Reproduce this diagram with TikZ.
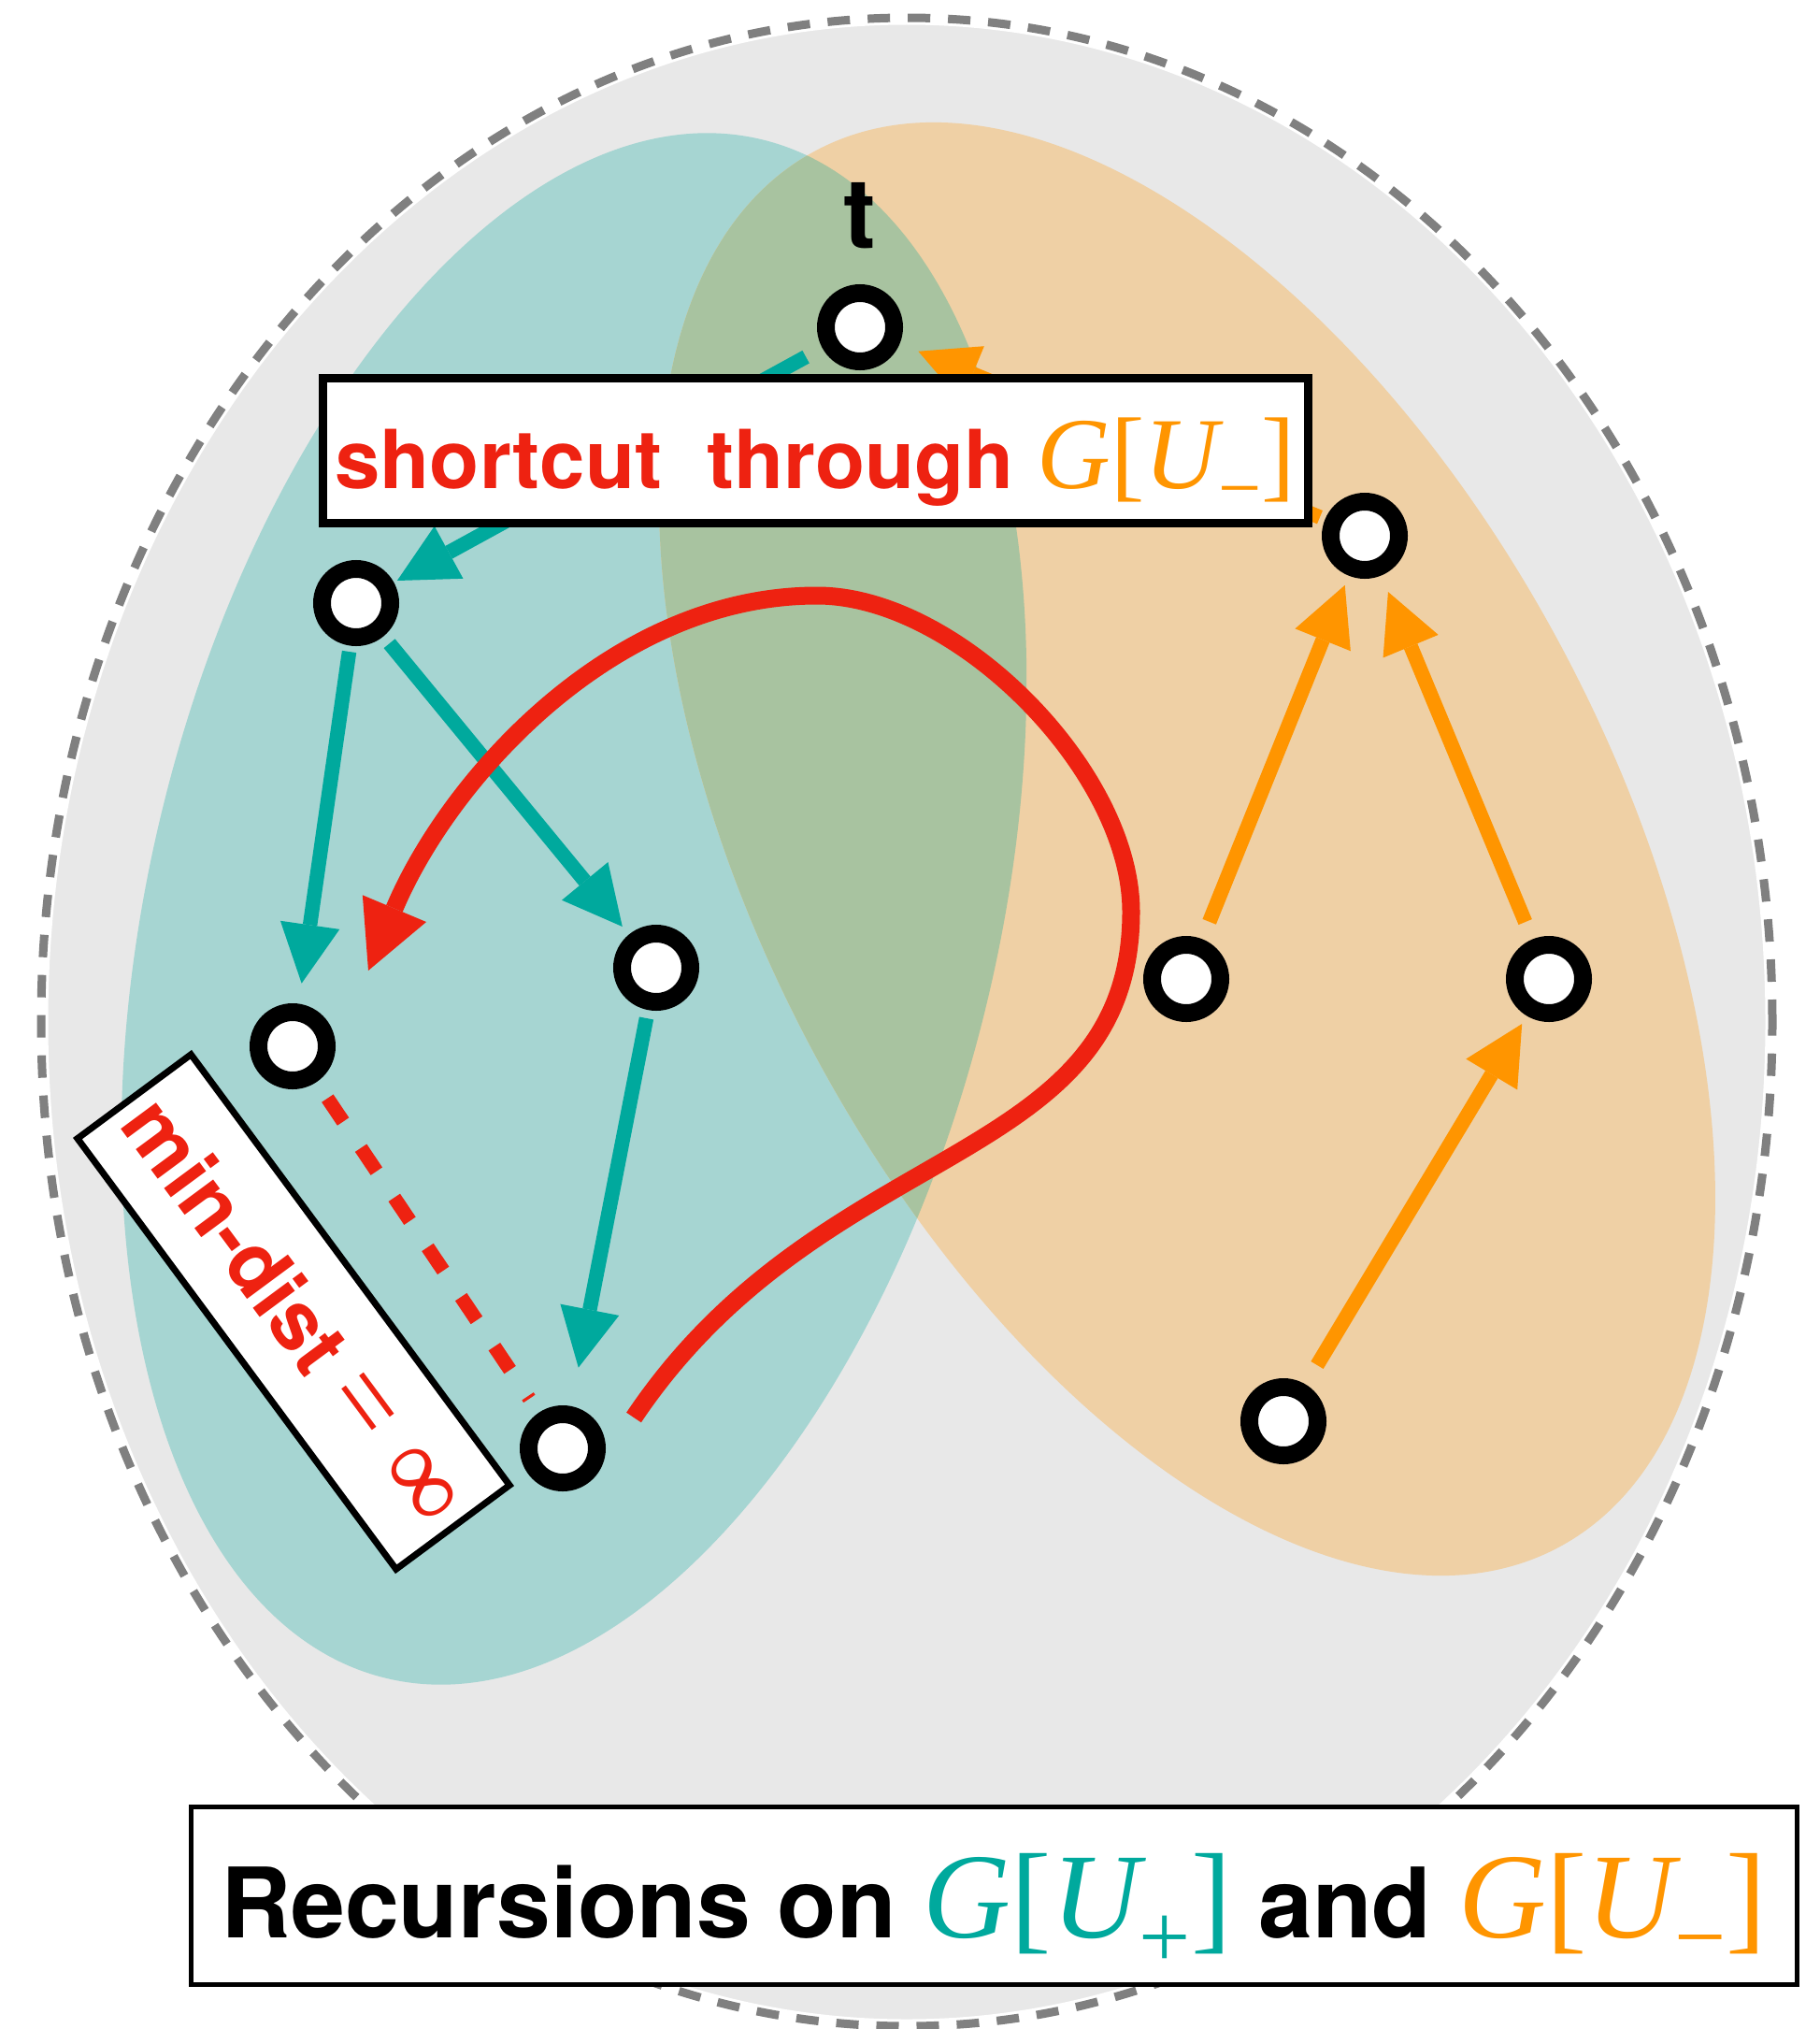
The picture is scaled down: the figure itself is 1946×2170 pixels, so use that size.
\documentclass[tikz,border=0pt]{standalone}
\usepackage{fontspec}
\setmainfont{TeX Gyre Heros}
\newfontfamily\serifmath{Liberation Serif}
\usetikzlibrary{arrows.meta}

\definecolor{bggray}{HTML}{E8E8E8}
\definecolor{rimgray}{HTML}{808080}
\definecolor{tealfill}{HTML}{A6D5D2}
\definecolor{orangefill}{HTML}{EFD0A5}
\definecolor{mixfill}{HTML}{A8C3A0}
\definecolor{tealline}{HTML}{00A99D}
\definecolor{orangeline}{HTML}{FF9500}
\definecolor{redline}{HTML}{EE2211}

\newcommand{\setsize}[1]{\fontsize{#1pt}{#1pt}\selectfont}
% G[U_s] in the serif family: size, subscript size, subscript drop, subscript symbol
\newcommand{\GU}[4]{{\serifmath\mdseries\setsize{#1}\itshape G\upshape[\itshape U\upshape\raisebox{-#3pt}{\setsize{#2}#4}]}}

\begin{document}
\begin{tikzpicture}[x=1pt, y=-1pt,
  vertex/.style={circle, draw=black, fill=white, line width=19pt,
    minimum size=73pt, inner sep=0pt, outer sep=0pt},
  tealedge/.style={draw=tealline, line width=15.5pt,
    -{Triangle[length=63pt, width=64pt, line width=0pt]}},
  orangeedge/.style={draw=orangeline, line width=15.5pt,
    -{Triangle[length=63pt, width=64pt, line width=0pt]}},
  shortcutpath/.style={draw=redline, line width=19pt,
    -{Triangle[length=72pt, width=74pt, line width=0pt]}},
  mindistpath/.style={draw=redline, line width=15pt, dash pattern=on 30pt off 34pt},
  labelbox/.style={draw=black, fill=white, inner sep=0pt, outer sep=0pt}
]
\useasboundingbox (0,0) rectangle (1946,2170);

% outer region
\fill[bggray] (970,1093) ellipse [x radius=926pt, y radius=1074pt];
% the two halves U+ and U-
\fill[tealfill, rotate around={-13.8:(614,972)}] (614,972) ellipse [x radius=453pt, y radius=847pt];
\fill[orangefill, rotate around={28:(1270,908)}] (1270,908) ellipse [x radius=455pt, y radius=846pt];
\begin{scope}
  \clip[rotate around={-13.8:(614,972)}] (614,972) ellipse [x radius=453pt, y radius=847pt];
  \fill[mixfill, rotate around={28:(1270,908)}] (1270,908) ellipse [x radius=455pt, y radius=846pt];
\end{scope}
\draw[white, line width=15pt] (970,1093) ellipse [x radius=926pt, y radius=1074pt];
\draw[rimgray, line width=9pt, dash pattern=on 24pt off 19pt] (970,1093) ellipse [x radius=926pt, y radius=1074pt];

% vertices
\node[vertex] (t) at (920,350) {};
\node[vertex] (A) at (381,645) {};
\node[vertex] (B) at (702,1035) {};
\node[vertex] (C) at (313,1119) {};
\node[vertex] (D) at (602,1549) {};
\node[vertex] (E) at (1460,573) {};
\node[vertex] (F) at (1269,1047) {};
\node[vertex] (G) at (1657,1047) {};
\node[vertex] (H) at (1373,1520) {};
\node[font=\setsize{104}\bfseries, anchor=base, inner sep=0pt] (tlabel) at (920,265) {t};

% edges inside G[U+]
\draw[tealedge, shorten <=29.5pt, shorten >=13.5pt] (t) -- (A);
\draw[tealedge, shorten <=16pt, shorten >=31.5pt] (A) -- (C);
\draw[tealedge, shorten <=19.5pt, shorten >=20.5pt] (A) -- (B);
\draw[tealedge, shorten <=18.5pt, shorten >=51.5pt] (B) -- (D);
% edges inside G[U-]
\draw[orangeedge, shorten <=15.5pt, shorten >=31pt] (E) -- (t);
\draw[orangeedge, shorten <=29.5pt, shorten >=20.5pt] (F) -- (E);
\draw[orangeedge, shorten <=29.5pt, shorten >=28.5pt] (G) -- (E);
\draw[orangeedge, shorten <=33.5pt, shorten >=19.5pt] (H) -- (G);

% infinite min-dist between C and D
\draw[mindistpath, shorten <=30.5pt, shorten >=27.5pt] (C) -- (D);

% shortcut through G[U-]
\coordinate (curvestart) at (678,1516);
\coordinate (curveright) at (1210,975);
\coordinate (curvetop) at (874,637);
\coordinate (curveend) at (394,1038);
\draw[shortcutpath] (curvestart)
  .. controls (880,1215) and (1210,1250) .. (curveright)
  .. controls (1210,825) and (1024,637) .. (curvetop)
  .. controls (654,637) and (479.4,835.2) .. (curveend);

% labels
\node[labelbox, line width=9pt, minimum width=1054pt, text height=118pt, text depth=37pt,
  text=redline, font=\setsize{87}\bfseries] (shortcutlabel) at (872,481.5)
  {shortcut\ \ through\ \textcolor{orangeline}{\GU{109}{82}{27.5}{−}}};
\node[labelbox, line width=7pt, minimum width=573pt, minimum height=151pt, rotate=-53.5,
  text=redline, font=\setsize{87}\bfseries] (mindistlabel) at (314,1403)
  {min-dist {\serifmath\mdseries\setsize{118}= ∞}};
\node[labelbox, line width=5pt, minimum width=1718pt, text height=140pt, text depth=50pt,
  font=\setsize{104}\bfseries] (recursionlabel) at (1063,2027)
  {Recursions on \textcolor{tealline}{\GU{130}{98}{32}{+}} and \textcolor{orangeline}{\GU{130}{98}{32}{−}}};
\end{tikzpicture}
\end{document}
